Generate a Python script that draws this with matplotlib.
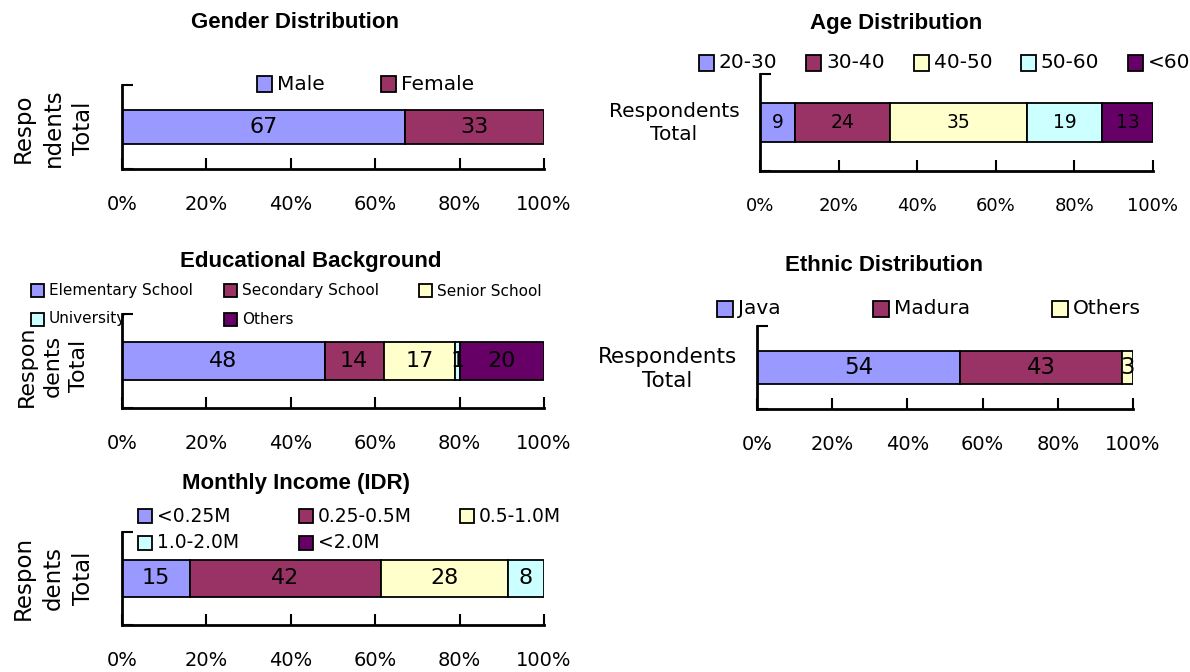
import matplotlib.pyplot as plt
from matplotlib.patches import Rectangle

# figure size in pixels
W, H = 1190, 672

# Excel-style fill colours, one per category slot
palette = ['#9999FF', '#993366', '#FFFFCC', '#CCFFFF', '#660066']

gender_labels = ['Male', 'Female']
gender_values = [67, 33]

age_labels = ['20-30', '30-40', '40-50', '50-60', '<60']
age_values = [9, 24, 35, 19, 13]

edu_labels = ['Elementary School', 'Secondary School', 'Senior School',
              'University', 'Others']
edu_values = [48, 14, 17, 1, 20]

ethnic_labels = ['Java', 'Madura', 'Others']
ethnic_values = [54, 43, 3]

income_labels = ['<0.25M', '0.25-0.5M', '0.5-1.0M', '1.0-2.0M', '<2.0M']
income_values = [15, 42, 28, 8, 0]

pct_ticks = [0, 20, 40, 60, 80, 100]
pct_labels = ['0%', '20%', '40%', '60%', '80%', '100%']

plt.rcParams['font.family'] = ['DejaVu Sans']

fig = plt.figure(figsize=(W / 100, H / 100), dpi=100)


def fx(x):
    return x / W


def fy(y):
    return 1 - y / H


def px_axes(x0, y0, x1, y1):
    return fig.add_axes([fx(x0), fy(y1), (x1 - x0) / W, (y1 - y0) / H])


def stacked(ax, values, fs_val, fs_tick):
    # 100% stacked bar: each segment is its share of the total
    total = sum(values)
    left = 0
    for v, c in zip(values, palette):
        if v == 0:
            continue
        w = v / total * 100
        ax.barh(0, w, left=left, height=0.8, color=c,
                edgecolor='black', linewidth=1.3)
        ax.text(left + w / 2, 0, str(v), ha='center', va='center',
                fontsize=fs_val)
        left += w
    ax.set_xlim(0, 100)
    ax.set_ylim(-1, 1)
    ax.set_xticks(pct_ticks)
    ax.set_xticklabels(pct_labels, fontsize=fs_tick)
    ax.set_yticks([-1, 1])
    ax.set_yticklabels([])
    ax.tick_params(axis='both', direction='in', length=8, width=1.5)
    ax.tick_params(axis='x', pad=19)
    for s in ['top', 'right']:
        ax.spines[s].set_visible(False)
    for s in ['left', 'bottom']:
        ax.spines[s].set_linewidth(2)
    ax.set_facecolor('none')


def legend(labels, xs, ys, box, fs):
    for i, (lab, c) in enumerate(zip(labels, palette)):
        x = xs[i % len(xs)]
        y = ys[i // len(xs)]
        fig.add_artist(Rectangle((fx(x), fy(y + box / 2)), box / W, box / H,
                                 facecolor=c, edgecolor='black', lw=1.3,
                                 transform=fig.transFigure))
        fig.text(fx(x + box + 5), fy(y), lab, fontsize=fs,
                 ha='left', va='center')


def title(x, y, s):
    fig.text(fx(x), fy(y), s, fontsize=16, fontweight='bold',
             family='Liberation Sans', ha='center', va='center')


def side_label(y, s, fs=16.5):
    fig.text(fx(53), fy(y), s, rotation=90, fontsize=fs,
             ha='center', va='center', multialignment='center',
             linespacing=1.4)


# Gender
ax = px_axes(122, 85, 544, 169)
stacked(ax, gender_values, 16, 14)
title(295, 23, 'Gender Distribution')
legend(gender_labels, [257, 381], [84], 15, 14.5)
side_label(128, 'Respo\nndents\nTotal')

# Age
ax = px_axes(760, 74, 1153, 171)
stacked(ax, age_values, 13.5, 13)
title(896, 23, 'Age Distribution')
legend(age_labels, [699, 806, 914, 1021, 1128], [63], 15, 14.5)
fig.text(fx(674), fy(123), 'Respondents\nTotal', fontsize=14.5,
         ha='center', va='center', multialignment='center', linespacing=1.25)

# Education
ax = px_axes(122, 314, 544, 408)
stacked(ax, edu_values, 16, 14)
title(311, 262, 'Educational Background')
legend(edu_labels, [31, 224, 419], [291, 319], 13, 11)
side_label(366, 'Respon\ndents\nTotal', fs=16)

# Ethnic
ax = px_axes(757, 326, 1133, 409)
stacked(ax, ethnic_values, 16.5, 14)
title(884, 266, 'Ethnic Distribution')
legend(ethnic_labels, [717, 873, 1052], [309], 16, 14.5)
fig.text(fx(667), fy(369), 'Respondents\nTotal', fontsize=15.5,
         ha='center', va='center', multialignment='center', linespacing=1.25)

# Income
ax = px_axes(122, 532, 544, 625)
stacked(ax, income_values, 16, 14)
title(296, 483, 'Monthly Income (IDR)')
legend(income_labels, [138, 299, 460], [516, 543], 14, 13.5)
side_label(578, 'Respon\ndents\nTotal')

fig.savefig('out.png', dpi=100, facecolor='white')
